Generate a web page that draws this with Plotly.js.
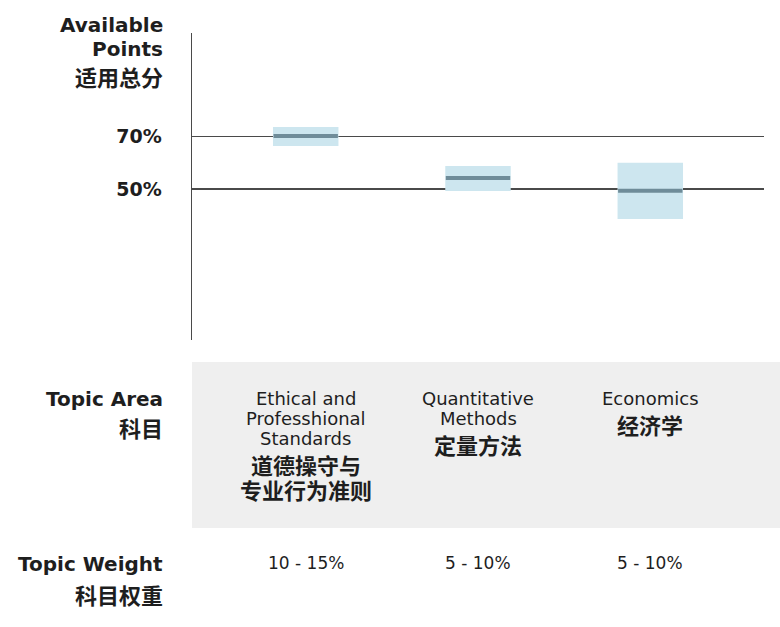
<!DOCTYPE html>
<html>
<head>
<meta charset="utf-8">
<script src="https://cdn.plot.ly/plotly-3.0.1.min.js"></script>
<style>html,body{margin:0;padding:0;background:#fff;}#chart{width:780px;height:627px;}</style>
</head>
<body>
<div id="chart"></div>
<script>
// ---- data ----
const categories = ["Ethics", "Quant", "Economics"];
const rangeLow = [66.4, 49.2, 38.6];
const rangeHigh = [73.6, 58.8, 60.0];
const medians = [70.2, 54.2, 49.3];
const tickValues = [50, 70];
const tickLabels = ["50%", "70%"];
const topicEnLines = [["Ethical and", "Professhional", "Standards"], ["Quantitative", "Methods"], ["Economics"]];
const topicZhLines = [["道德操守与", "专业行为准则"], ["定量方法"], ["经济学"]];
const topicWeights = ["10 - 15%", "5 - 10%", "5 - 10%"];
const yTitleLines = ["Available", "Points", "适用总分"];
const rowLabelArea = ["Topic Area", "科目"];
const rowLabelWeight = ["Topic Weight", "科目权重"];

// ---- layout helpers (pixel -> paper) ----
const W = 780, H = 627;
const mL = 192, mR = 16, mT = 33, mB = 287;
const plotW = W - mL - mR, plotH = H - mT - mB;
const py = Y => (H - mB - Y) / plotH;
const px = X => (X - mL) / plotW;

const FONT = "'DejaVu Sans', 'Noto Sans CJK SC', sans-serif";
const TXT = "#1e1e1e";
const isCJK = t => /[\u4e00-\u9fff]/.test(t);

const traces = [
  {
    type: "bar",
    x: categories,
    y: rangeHigh.map((h, i) => h - rangeLow[i]),
    base: rangeLow,
    width: 0.38,
    marker: {color: "#cde6ef", line: {width: 0}},
    hoverinfo: "skip"
  },
  {
    type: "scatter",
    mode: "markers",
    x: categories,
    y: medians,
    marker: {symbol: "line-ew", size: 46, line: {width: 4, color: "#6f8c99"}},
    hoverinfo: "skip"
  }
];

const annotations = [];
const shapes = [];

function leftLabel(t, Y) {
  annotations.push({xref: "paper", yref: "paper", x: px(165), y: py(Y), xanchor: "right", yanchor: "middle",
    text: "<b>" + t + "</b>", showarrow: false,
    font: {family: FONT, size: isCJK(t) ? 22 : 20, color: TXT}});
}

// Y title
const yTitleY = [25, 49, 79];
yTitleLines.forEach((t, i) => leftLabel(t, yTitleY[i]));

// gray panel
shapes.push({type: "rect", xref: "paper", yref: "paper", x0: 0, x1: px(781), y0: py(528), y1: py(362),
  fillcolor: "#efefef", line: {width: 0}, layer: "below"});

// row labels
const areaY = [399, 429];
rowLabelArea.forEach((t, i) => leftLabel(t, areaY[i]));
const weightY = [564, 596];
rowLabelWeight.forEach((t, i) => leftLabel(t, weightY[i]));

// topic texts
categories.forEach((c, ci) => {
  const en = topicEnLines[ci];
  en.forEach((t, li) => {
    annotations.push({xref: "x", yref: "paper", x: c, y: py(398 + li * 20), xanchor: "center", yanchor: "middle",
      text: t, showarrow: false, font: {family: FONT, size: 18, color: TXT}});
  });
  const zhStart = 398 + (en.length - 1) * 20 + 28;
  topicZhLines[ci].forEach((t, li) => {
    annotations.push({xref: "x", yref: "paper", x: c, y: py(zhStart + li * 25), xanchor: "center", yanchor: "middle",
      text: "<b>" + t + "</b>", showarrow: false, font: {family: FONT, size: 22, color: TXT}});
  });
  annotations.push({xref: "x", yref: "paper", x: c, y: py(563), xanchor: "center", yanchor: "middle",
    text: topicWeights[ci], showarrow: false, font: {family: FONT, size: 17, color: TXT}});
});

const layout = {
  width: W, height: H,
  margin: {l: mL, r: mR, t: mT, b: mB, pad: 0},
  paper_bgcolor: "#ffffff",
  plot_bgcolor: "#ffffff",
  showlegend: false,
  xaxis: {
    type: "category",
    range: [-0.66, 2.66],
    showticklabels: false,
    showgrid: false,
    zeroline: false,
    showline: false,
    fixedrange: true
  },
  yaxis: {
    range: [-7.5, 109.4],
    tickvals: tickValues,
    ticktext: tickLabels.map(t => "<b>" + t + "</b>"),
    tickfont: {family: FONT, size: 19, color: TXT},
    ticks: "outside",
    ticklen: 25,
    tickcolor: "rgba(0,0,0,0)",
    showgrid: true,
    gridcolor: "#4a4a4a",
    gridwidth: 1.5,
    zeroline: false,
    showline: true,
    linecolor: "#4a4a4a",
    linewidth: 1.5,
    fixedrange: true
  },
  shapes: shapes,
  annotations: annotations
};

Plotly.newPlot("chart", traces, layout, {displayModeBar: false, staticPlot: true});
</script>
</body>
</html>
